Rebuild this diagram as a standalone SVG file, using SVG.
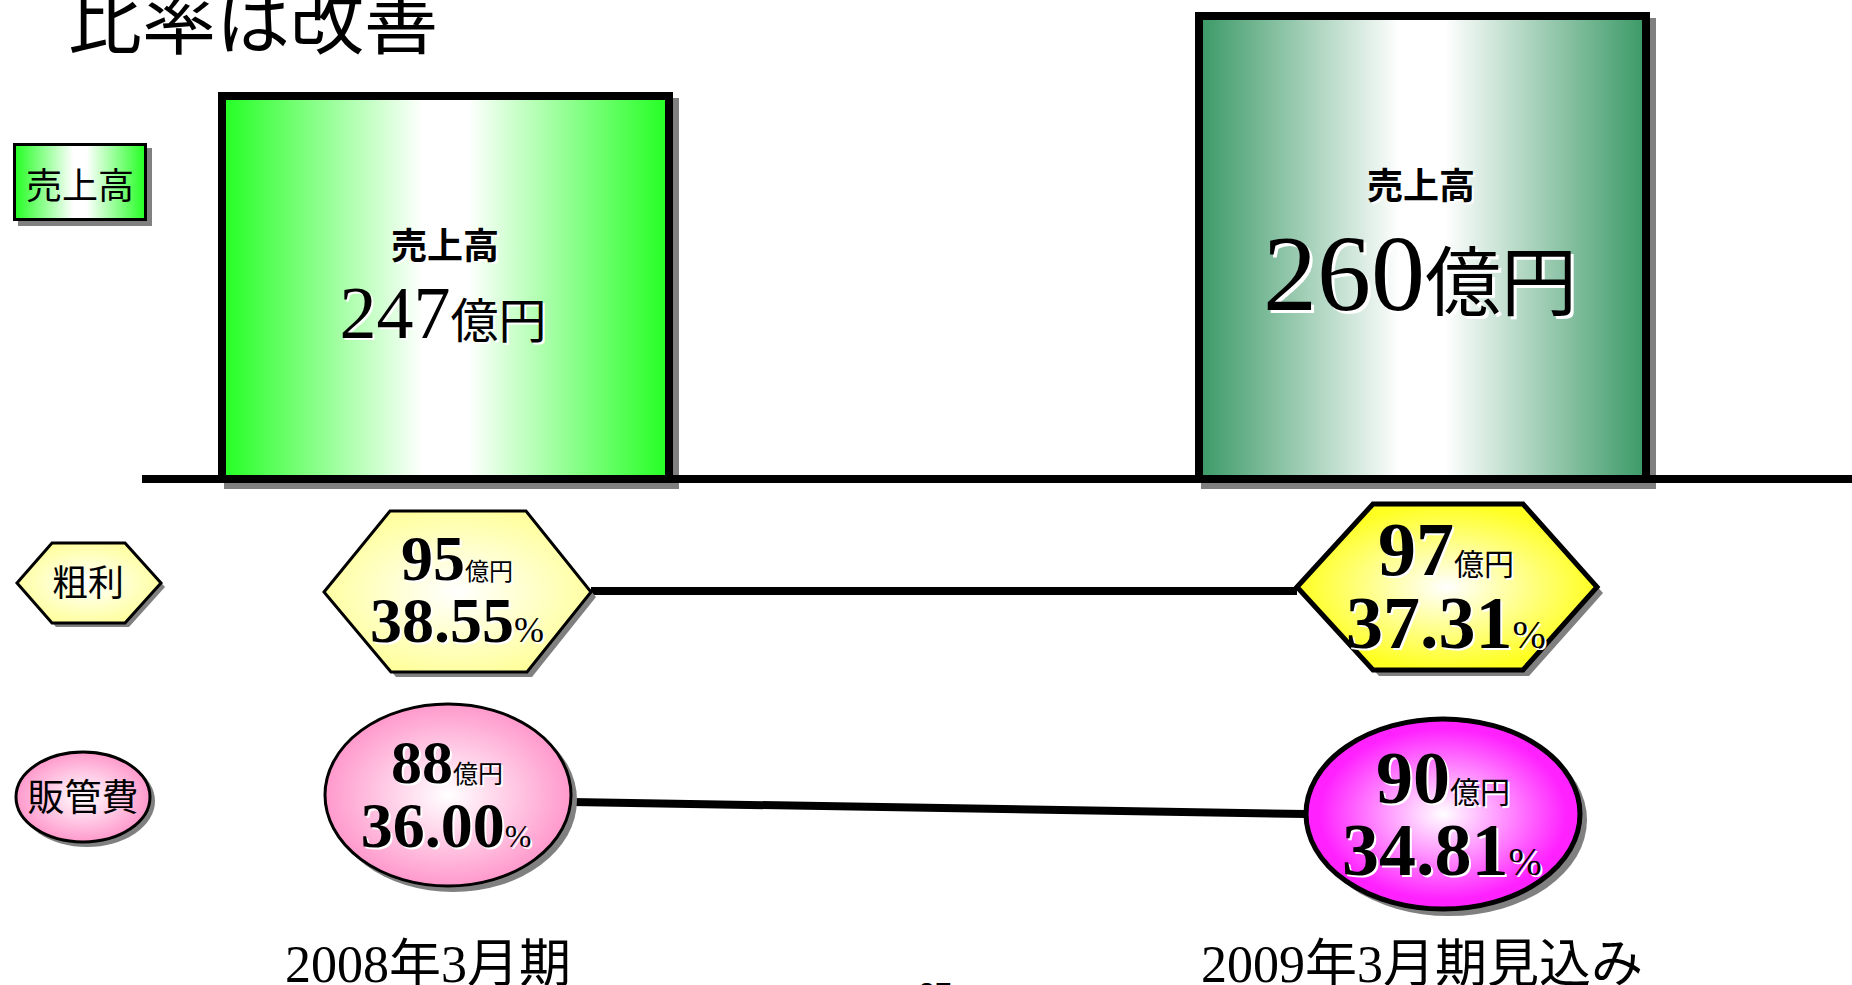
<svg xmlns="http://www.w3.org/2000/svg" xmlns:xlink="http://www.w3.org/1999/xlink" width="1852" height="985" viewBox="0 0 1852 985">
<style>
.jp{font-family:"Noto Sans CJK JP","Noto Sans CJK SC",sans-serif}
.num{font-family:"Liberation Serif","Times New Roman",serif}
.b{font-weight:bold}
.sh{fill:#fff}
.fg{fill:#000}
.shadow{fill:#808080;stroke:none}
.edge{stroke:#000;stroke-linejoin:miter}
.conn{stroke:#000;stroke-width:8;fill:none}
</style>
<defs>
<linearGradient id="gBright" x1="0" y1="0" x2="1" y2="0">
<stop offset="0" stop-color="#22ff22"/>
<stop offset="0.45" stop-color="#ffffff"/>
<stop offset="0.55" stop-color="#ffffff"/>
<stop offset="1" stop-color="#22ff22"/>
</linearGradient>
<linearGradient id="gDark" x1="0" y1="0" x2="1" y2="0">
<stop offset="0" stop-color="#3a9966"/>
<stop offset="0.45" stop-color="#ffffff"/>
<stop offset="0.55" stop-color="#ffffff"/>
<stop offset="1" stop-color="#3a9966"/>
</linearGradient>
<radialGradient id="gLightYellow" cx="0.5" cy="0.5" r="0.55">
<stop offset="0" stop-color="#ffffff"/>
<stop offset="1" stop-color="#ffff99"/>
</radialGradient>
<radialGradient id="gYellow" cx="0.5" cy="0.5" r="0.55">
<stop offset="0" stop-color="#ffffff"/>
<stop offset="0.9" stop-color="#ffff22"/>
<stop offset="1" stop-color="#ffff22"/>
</radialGradient>
<radialGradient id="gPink" cx="0.5" cy="0.5" r="0.5">
<stop offset="0" stop-color="#ffffff"/>
<stop offset="1" stop-color="#ff99cc"/>
</radialGradient>
<radialGradient id="gMagenta" cx="0.5" cy="0.5" r="0.5">
<stop offset="0" stop-color="#ffffff"/>
<stop offset="0.9" stop-color="#ff22ff"/>
<stop offset="1" stop-color="#ff22ff"/>
</radialGradient>
<text id="t247" x="443" y="338" text-anchor="middle"><tspan class="num" font-size="74">247</tspan><tspan class="jp" font-size="48">億円</tspan></text>
<text id="t260" x="1420" y="310" text-anchor="middle"><tspan class="num" font-size="108">260</tspan><tspan class="jp" font-size="76">億円</tspan></text>
<text id="lb1" x="445" y="259" text-anchor="middle" class="jp b" font-size="36">売上高</text>
<text id="lb2" x="1421" y="199" text-anchor="middle" class="jp b" font-size="36">売上高</text>
<text id="t95" x="457" y="580" text-anchor="middle"><tspan class="num b" font-size="64">95</tspan><tspan class="jp" font-size="24">億円</tspan></text>
<text id="t3855" x="457" y="642" text-anchor="middle"><tspan class="num b" font-size="64">38.55</tspan><tspan class="num" font-size="36">%</tspan></text>
<text id="t97" x="1446" y="575" text-anchor="middle"><tspan class="num b" font-size="76">97</tspan><tspan class="jp" font-size="30">億円</tspan></text>
<text id="t3731" x="1446" y="648" text-anchor="middle"><tspan class="num b" font-size="74">37.31</tspan><tspan class="num" font-size="40">%</tspan></text>
<text id="t88" x="447" y="783" text-anchor="middle"><tspan class="num b" font-size="62">88</tspan><tspan class="jp" font-size="25">億円</tspan></text>
<text id="t3600" x="446" y="847" text-anchor="middle"><tspan class="num b" font-size="64">36.00</tspan><tspan class="num" font-size="32">%</tspan></text>
<text id="t90" x="1443" y="803" text-anchor="middle"><tspan class="num b" font-size="74">90</tspan><tspan class="jp" font-size="30">億円</tspan></text>
<text id="t3481" x="1442" y="875" text-anchor="middle"><tspan class="num b" font-size="74">34.81</tspan><tspan class="num" font-size="40">%</tspan></text>
</defs>
<rect width="1852" height="985" fill="#ffffff"/>

<g id="title">
<text x="68" y="48" class="jp" font-size="74" fill="#000">比率は改善</text>
</g>

<g id="connectors">
<line class="conn" x1="591" y1="591" x2="1297" y2="591"/>
<line class="conn" x1="572" y1="802" x2="1306" y2="814"/>
</g>

<g id="bar2008">
<rect class="shadow" x="224" y="98" width="455" height="391"/>
<rect class="edge" x="222" y="96" width="447" height="383" fill="url(#gBright)" stroke-width="8"/>
<use xlink:href="#lb1" class="sh" x="2" y="2"/>
<use xlink:href="#lb1" class="fg"/>
<use xlink:href="#t247" class="sh" x="2" y="2"/>
<use xlink:href="#t247" class="fg"/>
</g>

<g id="bar2009">
<rect class="shadow" x="1201" y="18" width="455" height="471"/>
<rect class="edge" x="1199" y="16" width="447" height="463" fill="url(#gDark)" stroke-width="8"/>
<use xlink:href="#lb2" class="sh" x="2" y="2"/>
<use xlink:href="#lb2" class="fg"/>
<use xlink:href="#t260" class="sh" x="3" y="3"/>
<use xlink:href="#t260" class="fg"/>
</g>

<g id="baseline">
<line x1="142" y1="479" x2="1852" y2="479" stroke="#000" stroke-width="8"/>
</g>

<g id="legend-sales">
<rect class="shadow" x="18" y="148" width="134" height="78"/>
<rect class="edge" x="14.5" y="144.5" width="131" height="75" fill="url(#gBright)" stroke-width="3"/>
<text x="80" y="199" text-anchor="middle" class="jp" font-size="36" fill="#000">売上高</text>
</g>

<g id="legend-gross">
<polygon class="shadow" points="21,587 56,547 129,547 165,587 129,627 56,627"/>
<polygon class="edge" points="17,583 52,543 125,543 161,583 125,623 52,623" fill="url(#gLightYellow)" stroke-width="3"/>
<text x="88" y="596" text-anchor="middle" class="jp" font-size="36" fill="#000">粗利</text>
</g>

<g id="legend-sga">
<ellipse class="shadow" cx="87" cy="801" rx="68" ry="46"/>
<ellipse class="edge" cx="83" cy="797" rx="67" ry="45" fill="url(#gPink)" stroke-width="3"/>
<text x="83" y="811" text-anchor="middle" class="jp" font-size="37" fill="#000">販管費</text>
</g>

<g id="gross2008">
<polygon class="shadow" points="329,597 395,516 531,516 596,597 532,677 396,677"/>
<polygon class="edge" points="324,592 390,511 526,511 591,592 527,672 391,672" fill="url(#gLightYellow)" stroke-width="3"/>
<use xlink:href="#t95" class="sh" x="2" y="2"/>
<use xlink:href="#t95" class="fg"/>
<use xlink:href="#t3855" class="sh" x="2" y="2"/>
<use xlink:href="#t3855" class="fg"/>
</g>

<g id="gross2009">
<polygon class="shadow" points="1303,593 1379,510 1529,510 1603,593 1529,676 1379,676"/>
<polygon class="edge" points="1297,587 1373,504 1523,504 1597,587 1523,670 1373,670" fill="url(#gYellow)" stroke-width="5"/>
<use xlink:href="#t97" class="sh" x="2" y="2"/>
<use xlink:href="#t97" class="fg"/>
<use xlink:href="#t3731" class="sh" x="2" y="2"/>
<use xlink:href="#t3731" class="fg"/>
</g>

<g id="sga2008">
<ellipse class="shadow" cx="453" cy="800" rx="124" ry="92"/>
<ellipse class="edge" cx="448" cy="795" rx="123" ry="91" fill="url(#gPink)" stroke-width="3"/>
<use xlink:href="#t88" class="sh" x="2" y="2"/>
<use xlink:href="#t88" class="fg"/>
<use xlink:href="#t3600" class="sh" x="2" y="2"/>
<use xlink:href="#t3600" class="fg"/>
</g>

<g id="sga2009">
<ellipse class="shadow" cx="1449" cy="820" rx="138" ry="96"/>
<ellipse class="edge" cx="1443" cy="814" rx="137" ry="95" fill="url(#gMagenta)" stroke-width="5"/>
<use xlink:href="#t90" class="sh" x="2" y="2"/>
<use xlink:href="#t90" class="fg"/>
<use xlink:href="#t3481" class="sh" x="2" y="2"/>
<use xlink:href="#t3481" class="fg"/>
</g>

<g id="period-labels">
<text x="428" y="982" text-anchor="middle" font-size="52" fill="#000"><tspan class="num">2008</tspan><tspan class="jp">年</tspan><tspan class="num">3</tspan><tspan class="jp">月期</tspan></text>
<text x="1422" y="982" text-anchor="middle" font-size="52" fill="#000"><tspan class="num">2009</tspan><tspan class="jp">年</tspan><tspan class="num">3</tspan><tspan class="jp">月期見込み</tspan></text>
</g>

<g id="page-number">
<text x="935" y="1003" text-anchor="middle" font-family="Liberation Sans, Arial, sans-serif" font-size="30" fill="#000">27</text>
</g>
</svg>
